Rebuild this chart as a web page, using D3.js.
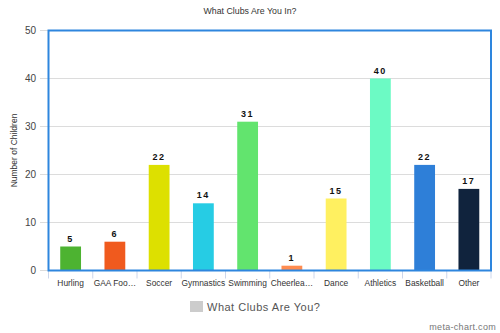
<!DOCTYPE html>
<html><head><meta charset="utf-8">
<script src="https://cdn.jsdelivr.net/npm/d3@7"></script>
<style>body{margin:0;background:#fff;}svg{display:block;font-family:"Liberation Sans",Arial,sans-serif;}</style>
</head><body>
<svg id="c" width="500" height="333"></svg>
<script>
const categories = ["Hurling","GAA Foo…","Soccer","Gymnastics","Swimming","Cheerlea…","Dance","Athletics","Basketball","Other"];
const values = [5,6,22,14,31,1,15,40,22,17];
const colors = ["#4db331","#f05a1e","#dde000","#26cce4","#62e46e","#ff8c50","#fff060","#6cfac4","#2e7fd8","#10233d"];
const yTicks = [0,10,20,30,40,50];
const title = "What Clubs Are You In?";
const yLabel = "Number of Children";
const legendLabel = "What Clubs Are You?";
const credit = "meta-chart.com";

const svg = d3.select("#c");
const m = {l:48.5, r:491, t:30.5, b:270.5};
const x = d3.scaleBand().domain(categories).range([m.l, m.r]).paddingInner(0).paddingOuter(0);
const y = d3.scaleLinear().domain([0,50]).range([m.b, m.t]);

svg.append("text").attr("x",250).attr("y",14).attr("text-anchor","middle")
  .attr("font-size",8.8).attr("fill","#333").text(title);

// gridlines
svg.append("g").selectAll("line").data(yTicks).join("line")
  .attr("x1",40).attr("x2",m.r).attr("y1",d=>y(d)).attr("y2",d=>y(d))
  .attr("stroke","#dcdcdc").attr("stroke-width",1);

// y tick labels
svg.append("g").selectAll("text").data(yTicks).join("text")
  .attr("x",36).attr("y",d=>y(d)+3.5).attr("text-anchor","end")
  .attr("font-size",10).attr("fill","#444").text(d=>d);

svg.append("text").attr("transform",`translate(17,${(m.t+m.b)/2}) rotate(-90)`)
  .attr("text-anchor","middle").attr("font-size",8.5).attr("fill","#333").text(yLabel);

// x ticks
const bounds = categories.map(c=>x(c)).concat([m.r]);
svg.append("g").selectAll("line").data(bounds).join("line")
  .attr("x1",d=>d).attr("x2",d=>d).attr("y1",m.b).attr("y2",m.b+8)
  .attr("stroke","#ccd6eb").attr("stroke-width",1);

// bars
const bw = x.bandwidth()*0.47;
svg.append("g").selectAll("rect").data(values).join("rect")
  .attr("x",(d,i)=>x(categories[i])+x.bandwidth()/2-bw/2)
  .attr("width",bw)
  .attr("y",d=>y(d)).attr("height",d=>y(0)-y(d))
  .attr("fill",(d,i)=>colors[i]);

// value labels
svg.append("g").selectAll("text").data(values).join("text")
  .attr("x",(d,i)=>x(categories[i])+x.bandwidth()/2)
  .attr("y",d=>y(d)-5).attr("text-anchor","middle")
  .attr("font-size",9).attr("font-weight","bold").attr("letter-spacing",1.5).attr("fill","#111")
  .text(d=>d);

// plot border
svg.append("rect").attr("x",m.l).attr("y",m.t).attr("width",m.r-m.l).attr("height",m.b-m.t)
  .attr("fill","none").attr("stroke","#2e86de").attr("stroke-width",2);

// x labels
svg.append("g").selectAll("text").data(categories).join("text")
  .attr("x",d=>x(d)+x.bandwidth()/2).attr("y",286).attr("text-anchor","middle")
  .attr("font-size",8.4).attr("fill","#333").text(d=>d);

// legend
svg.append("rect").attr("x",190).attr("y",301).attr("width",13).attr("height",11).attr("fill","#cccccc");
svg.append("text").attr("x",207).attr("y",311).attr("font-size",11).attr("fill","#555").attr("letter-spacing",0.5).text(legendLabel);

svg.append("text").attr("x",496).attr("y",330).attr("text-anchor","end")
  .attr("font-size",9).attr("fill","#777").attr("letter-spacing",0.3).text(credit);
</script>
</body></html>
